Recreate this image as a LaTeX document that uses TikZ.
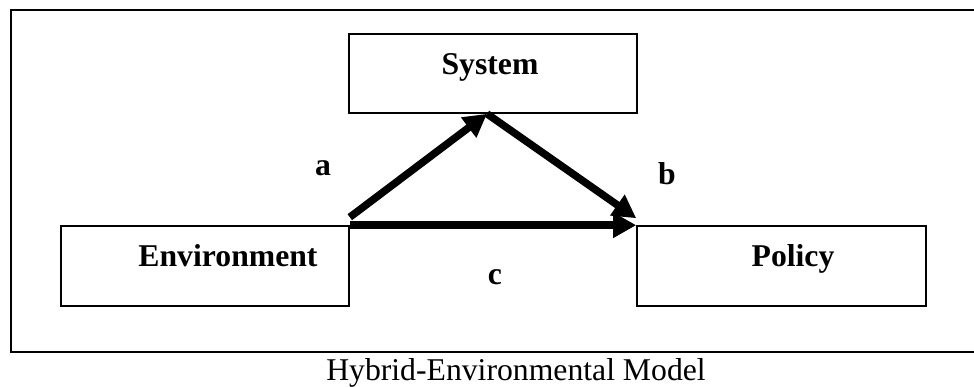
\documentclass[tikz,border=0pt]{standalone}
\usepackage{fontspec}
\setmainfont{Liberation Serif}
\usetikzlibrary{arrows.meta,calc}

\begin{document}
\begin{tikzpicture}[x=1pt,y=-1pt,
  box/.style={draw=black, line width=1.6pt, rectangle, inner sep=0pt},
  boxtext/.style={font=\fontsize{31.7}{38}\selectfont\bfseries, anchor=base, inner sep=0pt},
  letter/.style={font=\fontsize{31.7}{38}\selectfont\bfseries, anchor=base, inner sep=0pt},
  flow/.style={line width=7.5pt, line cap=butt, -{Triangle[length=23pt,width=24pt]}},
  frame/.style={draw=black, line width=2pt}
]
\useasboundingbox (0,0) rectangle (974,387);

% outer frame, open on the right
\draw[frame] (974,10) -- (11,10) -- (11,352) -- (974,352);

% the three blocks
\node[box, minimum width=288pt, minimum height=80pt] (env) at (205,266) {};
\node[box, minimum width=288pt, minimum height=79pt] (sys) at (493,73.5) {};
\node[box, minimum width=289pt, minimum height=80pt] (pol) at (781.5,266) {};

% block titles
\node[boxtext] (envtext) at (228,267) {Environment};
\node[boxtext] (systext) at (490,75) {System};
\node[boxtext] (poltext) at (793,267) {Policy};

% arrow end points on the blocks
\coordinate (envtop) at ($(env.north east)+(0,-8)$);
\coordinate (systip) at ($(sys.south)+(-6,0)$);
\coordinate (poltop) at ($(pol.north west)+(0,-7)$);

% causal paths
\draw[flow] (envtop) -- (systip);
\draw[flow] (systip) -- (poltop);
\draw[flow] (env.north east) -- (pol.north west);

% path labels
\node[letter] (la) at (323,176) {a};
\node[letter] (lb) at (667,185) {b};
\node[letter] (lc) at (495,284) {c};

% caption
\node[font=\fontsize{31.7}{38}\selectfont, anchor=base, inner sep=0pt] (cap) at (516,380) {Hybrid-Environmental Model};
\end{tikzpicture}
\end{document}
